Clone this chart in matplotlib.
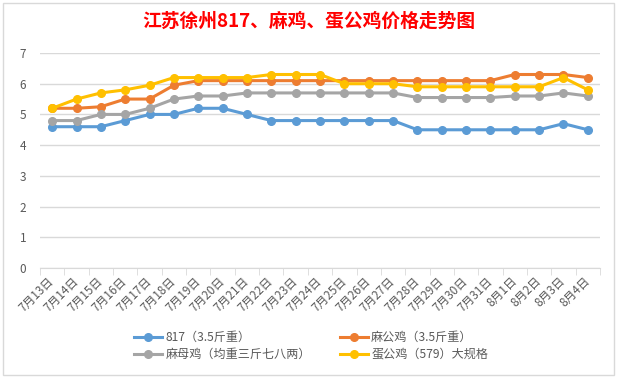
import matplotlib
matplotlib.use('Agg')
import matplotlib.pyplot as plt
from matplotlib.patches import Rectangle

plt.rcParams['font.family'] = ['Noto Sans CJK SC', 'DejaVu Sans']

dates = ['7月13日', '7月14日', '7月15日', '7月16日', '7月17日', '7月18日', '7月19日',
         '7月20日', '7月21日', '7月22日', '7月23日', '7月24日', '7月25日', '7月26日',
         '7月27日', '7月28日', '7月29日', '7月30日', '7月31日', '8月1日', '8月2日',
         '8月3日', '8月4日']
s817 = [4.6, 4.6, 4.6, 4.8, 5.0, 5.0, 5.2, 5.2, 5.0, 4.8, 4.8, 4.8, 4.8, 4.8, 4.8,
        4.5, 4.5, 4.5, 4.5, 4.5, 4.5, 4.7, 4.5]
ma_gong = [5.2, 5.2, 5.25, 5.5, 5.5, 5.95, 6.1, 6.1, 6.1, 6.1, 6.1, 6.1, 6.1, 6.1, 6.1,
           6.1, 6.1, 6.1, 6.1, 6.3, 6.3, 6.3, 6.2]
ma_mu = [4.8, 4.8, 5.0, 5.0, 5.2, 5.5, 5.6, 5.6, 5.7, 5.7, 5.7, 5.7, 5.7, 5.7, 5.7,
         5.55, 5.55, 5.55, 5.55, 5.6, 5.6, 5.7, 5.6]
dan_gong = [5.2, 5.5, 5.7, 5.8, 5.95, 6.2, 6.2, 6.2, 6.2, 6.3, 6.3, 6.3, 6.0, 6.0, 6.0,
            5.9, 5.9, 5.9, 5.9, 5.9, 5.9, 6.2, 5.8]

series = [
    ('817（3.5斤重）', s817, '#5B9BD5'),
    ('麻公鸡（3.5斤重）', ma_gong, '#ED7D31'),
    ('麻母鸡（均重三斤七八两）', ma_mu, '#A5A5A5'),
    ('蛋公鸡（579）大规格', dan_gong, '#FFC000'),
]

fig = plt.figure(figsize=(6.17, 3.78), dpi=100)
fig.patches.append(Rectangle((3 / 617, 3 / 378), 611 / 617, 372 / 378, transform=fig.transFigure,
                             fill=False, edgecolor='#D9D9D9', linewidth=1))
ax = fig.add_axes([40 / 617, 110 / 378, 560 / 617, 215 / 378])

x = list(range(len(dates)))
handles = []
for name, vals, col in series:
    h, = ax.plot(x, vals, color=col, linewidth=2.2, marker='o', markersize=5.5, label=name)
    handles.append(h)

ax.set_xlim(-0.5, len(dates) - 0.5)
ax.set_ylim(0, 7)
ax.set_yticks(range(0, 8))
ax.grid(axis='y', color='#D9D9D9', linewidth=1)
ax.set_axisbelow(True)
for sp in ['top', 'right', 'left']:
    ax.spines[sp].set_visible(False)
ax.spines['bottom'].set_color('#D9D9D9')
ax.tick_params(axis='y', length=0, labelsize=8.5, labelcolor='#595959', pad=10)
ax.set_xticks(x)
ax.set_xticklabels(dates, rotation=45, ha='right', va='center', rotation_mode='anchor',
                   fontsize=8.5, color='#595959')
ax.tick_params(axis='x', which='major', length=0, pad=8)
ax.set_xticks([i - 0.5 for i in range(len(dates) + 1)], minor=True)
ax.tick_params(axis='x', which='minor', length=5, color='#D9D9D9')

fig.text(0.5, 0.945, '江苏徐州817、麻鸡、蛋公鸡价格走势图', ha='center', va='center',
         fontsize=13.5, fontweight='bold', color='#FF0000')

# row-wise order like Excel: 817, 麻公鸡 / 麻母鸡, 蛋公鸡
order = [0, 2, 1, 3]
fig.legend([handles[i] for i in order], [series[i][0] for i in order],
           loc='center', bbox_to_anchor=(0.504, 0.085), ncol=2, frameon=False,
           fontsize=8.7, labelcolor='#595959', handlelength=2.3, handletextpad=0.3,
           columnspacing=2.4, labelspacing=0.35)

fig.savefig('out.png', dpi=100)
